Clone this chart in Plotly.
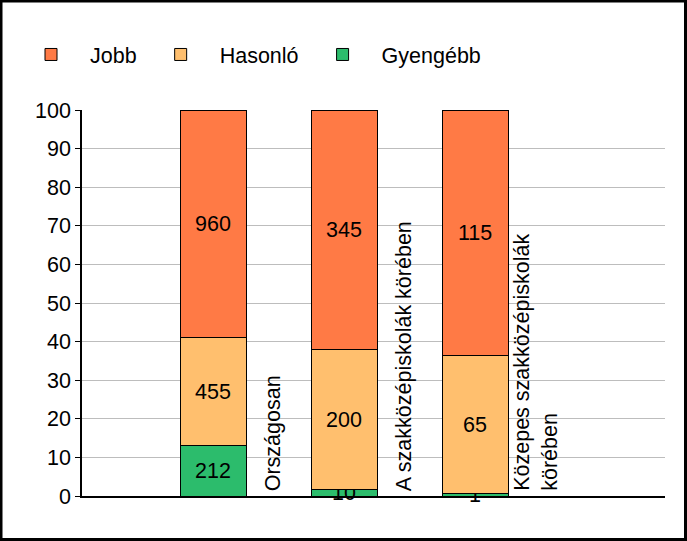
import plotly.graph_objects as go

categories = ["Országosan", "A szakközépiskolák körében", "Közepes szakközépiskolák<br>körében"]
series_names = ["Gyengébb", "Hasonló", "Jobb"]
gyengebb = [212, 10, 1]
hasonlo = [455, 200, 65]
jobb = [960, 345, 115]
yticks = [0, 10, 20, 30, 40, 50, 60, 70, 80, 90, 100]

colors = {"Gyengébb": "#2CBC6C", "Hasonló": "#FFBF6E", "Jobb": "#FF7A45"}
values = {"Gyengébb": gyengebb, "Hasonló": hasonlo, "Jobb": jobb}

W, H = 687, 541
ml, mr, mt, mb = 82, 22, 110, 45
pw, ph = W - ml - mr, H - mt - mb
FS = 21.5

fig = go.Figure()
xs = list(range(len(categories)))
for name in series_names:
    fig.add_trace(go.Bar(
        x=xs, y=values[name], name=name,
        text=[str(v) for v in values[name]],
        textposition="inside", insidetextanchor="middle", textangle=0,
        textfont=dict(size=FS, color="black"), cliponaxis=False,
        marker=dict(color=colors[name], line=dict(color="black", width=1)),
        width=0.504, hoverinfo="skip",
    ))

for i, c in enumerate(categories):
    fig.add_annotation(x=i + 0.46, y=0, xref="x", yref="y", text=c, textangle=-90,
                       showarrow=False, xanchor="center", yanchor="bottom",
                       align="left", font=dict(size=FS, color="black"), yshift=3)

# outer frame
fig.add_shape(type="rect", xref="paper", yref="paper",
              x0=(1 - ml) / pw, x1=(W - 1.5 - ml) / pw,
              y0=-(mb - 1.5) / ph, y1=1 + (mt - 1) / ph,
              line=dict(color="black", width=3), fillcolor="rgba(0,0,0,0)", layer="above")

fig.update_layout(
    width=W, height=H,
    margin=dict(l=ml, r=mr, t=mt, b=mb, pad=0),
    barmode="stack", barnorm="percent",
    paper_bgcolor="white", plot_bgcolor="white",
    font=dict(family="Liberation Sans, Arial, sans-serif", size=FS, color="black"),
    uniformtext=dict(minsize=FS, mode="show"),
    legend=dict(orientation="h", traceorder="reversed", x=(12 - ml) / pw, y=1 + (mt - 34) / ph,
                xanchor="left", yanchor="top", font=dict(size=FS), itemwidth=68,
                bgcolor="rgba(0,0,0,0)"),
    showlegend=True,
    xaxis=dict(range=[-1.0, 3.45], showticklabels=False, showgrid=False, zeroline=False,
               showline=True, linecolor="black", linewidth=1.5, ticks=""),
    yaxis=dict(range=[0, 100], tickvals=yticks, showgrid=True, gridcolor="#BDBDBD", gridwidth=1,
               zeroline=False, showline=True, linecolor="black", linewidth=1.5,
               ticks="outside", ticklen=5, tickcolor="black", tickfont=dict(size=FS)),
)

fig.write_html("out.html", config={"displayModeBar": False},
               post_script="document.body.style.margin='0';document.body.style.overflow='hidden';")
